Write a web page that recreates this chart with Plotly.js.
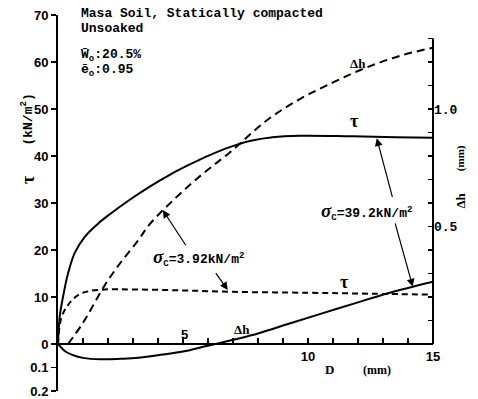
<!DOCTYPE html>
<html><head><meta charset="utf-8">
<script src="https://cdn.plot.ly/plotly-3.0.1.min.js"></script>
<style>html,body{margin:0;padding:0;background:#fff}#c{width:478px;height:399px}</style>
</head><body><div id="c"></div>
<script>
// sigma_c = 39.2 kN/m2 : shear stress tau (solid, upper)
const D_tauHi = [0,0.07,0.2,0.4,0.67,1.07,1.6,2.07,2.87,3.67,4.47,5.27,6.07,6.87,7.67,8.59,9.67,11.67,13.5,15];
const tauHi   = [0,5.9,10,15,19.4,22.8,25.6,27.6,30.7,33.5,36.0,38.2,40.2,41.9,43.2,44.0,44.3,44.2,44.0,43.9];
// sigma_c = 39.2 kN/m2 : dilatancy dh (solid, lower), mm
const D_dhHi = [0,0.3,0.67,1.0,1.7,2.5,3.2,4.1,5.0,5.8,6.3,8.0,9.2,10.5,11.9,13.2,15];
const dhHi   = [0,-0.032,-0.05,-0.059,-0.065,-0.063,-0.059,-0.046,-0.032,-0.012,0,0.045,0.085,0.128,0.174,0.216,0.265];
// sigma_c = 3.92 kN/m2 : shear stress tau (dashed plateau)
const D_tauLo = [0,0.13,0.4,0.8,1.2,1.87,3,5,7,10,12.5,15];
const tauLo   = [0,5.5,8.3,10.4,11.2,11.6,11.6,11.4,11.1,10.9,10.7,10.5];
// sigma_c = 3.92 kN/m2 : dilatancy dh (dashed, rising), mm
const D_dhLo = [0.4,1.0,1.87,2.53,3.2,3.67,4.74,5.8,6.87,8.33,9.67,11,12.33,13.67,15];
const dhLo   = [0,0.09,0.25,0.35,0.44,0.51,0.625,0.725,0.815,0.95,1.042,1.113,1.176,1.226,1.261];

const xTicks = [0,1,2,3,4,5,6,7,8,9,10,11,12,13,14,15];
const xTickText = ['','','','','','','','','','','10','','','','','15'];
const yTicks = [-10,-5,0,10,20,30,40,50,60,70];
const yTickText = ['0.2','0.1','0','10','20','30','40','50','60','70'];
const y2Ticks = [0,0.1,0.2,0.3,0.4,0.5,0.6,0.7,0.8,0.9,1.0,1.1,1.2,1.3];
const y2TickText = ['','','','','','0.5','','','','','1.0','','',''];

const mono = 'Liberation Mono, Courier New, monospace';
const sans = 'Liberation Sans, Arial, sans-serif';
const serif = 'Liberation Serif, Times New Roman, serif';
const blk = '#000';

const traces = [
  {x: D_tauHi, y: tauHi, yaxis: 'y', mode: 'lines', line: {color: blk, width: 2, shape: 'spline'}},
  {x: D_dhHi, y: dhHi, yaxis: 'y2', mode: 'lines', line: {color: blk, width: 2, shape: 'spline'}},
  {x: D_tauLo, y: tauLo, yaxis: 'y', mode: 'lines', line: {color: blk, width: 2, shape: 'spline', dash: '6px,4px'}},
  {x: D_dhLo, y: dhLo, yaxis: 'y2', mode: 'lines', line: {color: blk, width: 2, shape: 'spline', dash: '8px,5px'}}
];

function txt(x, y, text, font, extra) {
  return Object.assign({x: x, y: y, xref: 'x', yref: 'y', text: text, showarrow: false, font: font}, extra || {});
}
function arrow(x, y, ax, ay) {
  return {x: x, y: y, ax: ax, ay: ay, xref: 'x', yref: 'y', axref: 'x', ayref: 'y', text: '',
          showarrow: true, arrowhead: 2, arrowsize: 1.3, arrowwidth: 1.2, arrowcolor: blk, standoff: 0, startstandoff: 0};
}
function ptxt(x, y, text, font, extra) {
  return Object.assign({x: x, y: y, xref: 'paper', yref: 'paper', text: text, showarrow: false, font: font}, extra || {});
}

const hdr = {family: mono, size: 13, color: blk, weight: 'bold'};
const sigmaLabel = (v) => '<span style="font-family:Liberation Serif;font-size:19px"><b><i>σ</i></b></span><sub>C</sub>=' + v + 'kN/m<sup>2</sup>';

const annotations = [
  ptxt(0.056, 1.004, 'Masa Soil, Statically compacted', hdr, {xanchor: 'left', yanchor: 'middle'}),
  ptxt(0.056, 0.963, 'Unsoaked', hdr, {xanchor: 'left', yanchor: 'middle'}),
  ptxt(0.056, 0.892, 'W̄<sub>o</sub>:20.5%', hdr, {xanchor: 'left', yanchor: 'middle'}),
  ptxt(0.056, 0.852, 'ē<sub>o</sub>:0.95', hdr, {xanchor: 'left', yanchor: 'middle'}),
  ptxt(-0.112, 0.795, '(kN/m<sup>2</sup>)', {family: mono, size: 13, color: blk, weight: 'bold'}, {textangle: -90}),
  ptxt(-0.112, 0.561, 'τ', {family: serif, size: 18, color: blk, weight: 'bold'}, {textangle: -90}),
  ptxt(1.098, 0.507, 'Δh', {family: serif, size: 13, color: blk, weight: 'bold'}, {textangle: -90}),
  ptxt(1.098, 0.62, '(mm)', {family: serif, size: 11, color: blk, weight: 'bold'}, {textangle: -90}),
  txt(11.99, 59.7, 'Δh', {family: serif, size: 13, color: blk, weight: 'bold'}),
  txt(11.87, 47.4, 'τ', {family: serif, size: 18, color: blk, weight: 'bold'}),
  txt(11.47, 13.2, 'τ', {family: serif, size: 18, color: blk, weight: 'bold'}),
  txt(7.35, 3.0, 'Δh', {family: serif, size: 13, color: blk, weight: 'bold'}),
  txt(5.05, 2.0, '5', {family: sans, size: 13, color: blk, weight: 'bold'}),
  txt(10.87, -5.5, 'D', {family: serif, size: 13, color: blk, weight: 'bold'}),
  txt(12.75, -5.5, '(mm)', {family: serif, size: 12, color: blk, weight: 'bold'}),
  txt(5.63, 18.5, sigmaLabel('3.92'), {family: mono, size: 13, color: blk, weight: 'bold'}),
  txt(12.35, 28.1, sigmaLabel('39.2'), {family: mono, size: 13, color: blk, weight: 'bold'}),
  arrow(4.19, 28.5, 5.15, 20.7),
  arrow(6.79, 11.5, 6.27, 15.4),
  arrow(12.75, 43.8, 13.39, 31.0),
  arrow(14.19, 12.2, 13.47, 26.0)
];

const layout = {
  width: 478, height: 399,
  margin: {l: 58, r: 45, t: 15, b: 8},
  paper_bgcolor: '#fff', plot_bgcolor: '#fff',
  showlegend: false,
  xaxis: {
    range: [0, 15], anchor: 'free', position: 0.125,
    showline: true, linewidth: 2, linecolor: blk,
    ticks: 'inside', ticklen: 5, tickwidth: 1.5, tickcolor: blk,
    tickvals: xTicks, ticktext: xTickText,
    tickfont: {family: sans, size: 13, color: blk, weight: 'bold'},
    showgrid: false, zeroline: false, fixedrange: true
  },
  yaxis: {
    range: [-10, 70],
    showline: true, linewidth: 2, linecolor: blk,
    ticks: 'outside', ticklen: 5, tickwidth: 1.5, tickcolor: blk,
    tickvals: yTicks, ticktext: yTickText,
    tickfont: {family: sans, size: 13, color: blk, weight: 'bold'},
    showgrid: false, zeroline: false, fixedrange: true
  },
  yaxis2: {
    range: [-0.2, 1.4], overlaying: 'y', side: 'right', anchor: 'x',
    showline: false,
    ticks: 'inside', ticklen: 5, tickwidth: 1.5, tickcolor: blk,
    tickvals: y2Ticks, ticktext: y2TickText,
    tickfont: {family: mono, size: 13, color: blk, weight: 'bold'},
    showgrid: false, zeroline: false, fixedrange: true
  },
  shapes: [
    {type: 'line', xref: 'paper', x0: 1, x1: 1, yref: 'y2', y0: 0, y1: 1.3, line: {color: blk, width: 2}}
  ],
  annotations: annotations
};

Plotly.newPlot('c', traces, layout, {displayModeBar: false, staticPlot: true});
</script>
</body></html>
